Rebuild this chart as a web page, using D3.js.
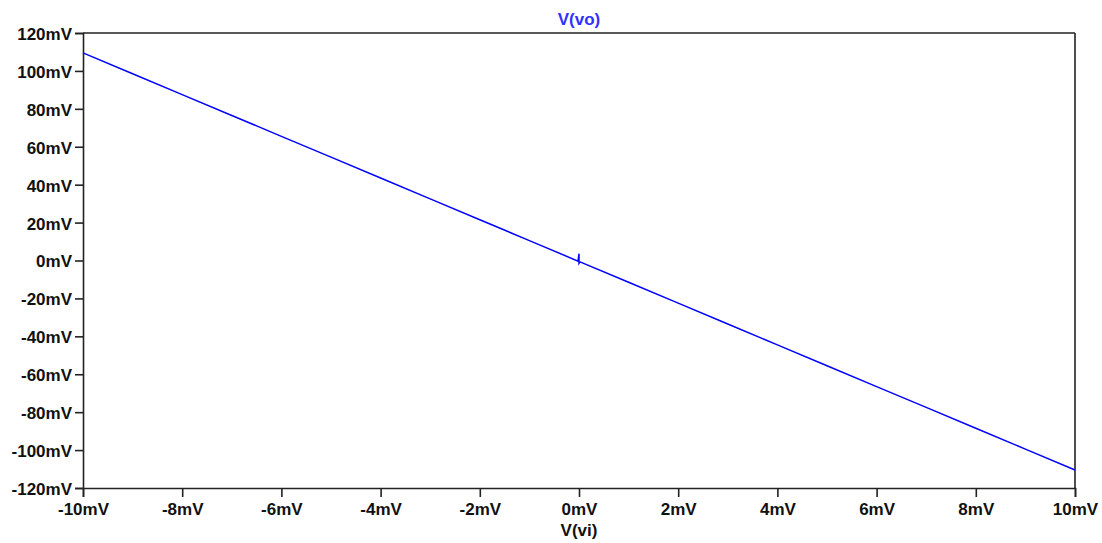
<!DOCTYPE html>
<html>
<head>
<meta charset="utf-8">
<script src="https://cdn.jsdelivr.net/npm/d3@7"></script>
<style>
  html, body { margin: 0; padding: 0; background: #ffffff; }
  svg { display: block; }
  text { font-family: "Liberation Sans", Arial, sans-serif; }
</style>
</head>
<body>
<svg id="chart" width="1102" height="543"></svg>
<script>
// ---- data (mV) ----
const xValues = [-10, -9, -8, -7, -6, -5, -4, -3, -2, -1, -0.02, 0, 0, 0.02, 1, 2, 3, 4, 5, 6, 7, 8, 9, 10];
const yValues = [109.5, 98.5, 87.5, 76.5, 65.5, 54.5, 43.5, 32.5, 21.5, 10.5, -0.3, 3.6, -1.5, -0.7, -11.5, -22.5, -33.5, -44.5, -55.5, -66.5, -77.5, -88.5, -99.5, -110.5];
const xTicks = [-10, -8, -6, -4, -2, 0, 2, 4, 6, 8, 10];
const yTicks = [120, 100, 80, 60, 40, 20, 0, -20, -40, -60, -80, -100, -120];
const seriesName = "V(vo)";
const xAxisName = "V(vi)";

const points = xValues.map((xv, i) => ({ x: xv, y: yValues[i] }));

const svg = d3.select("#chart");
const plotLeft = 83, plotRight = 1075, plotTop = 33, plotBottom = 488;

const x = d3.scaleLinear().domain([-10, 10]).range([plotLeft, plotRight]);
const y = d3.scaleLinear().domain([-120, 120]).range([plotBottom, plotTop]);

const fmt = d => d + "mV";
const axisColor = "#222";
const fontSize = "17px";

// frame (top and right)
svg.append("line").attr("x1", plotLeft).attr("x2", plotRight).attr("y1", plotTop).attr("y2", plotTop)
  .attr("stroke", axisColor).attr("stroke-width", 1.6);
svg.append("line").attr("x1", plotRight).attr("x2", plotRight).attr("y1", plotTop).attr("y2", plotBottom)
  .attr("stroke", axisColor).attr("stroke-width", 1.6);

// y axis
const gy = svg.append("g").attr("transform", `translate(${plotLeft},0)`)
  .call(d3.axisLeft(y).tickValues(yTicks).tickFormat(fmt).tickSize(8).tickPadding(3));
// x axis
const gx = svg.append("g").attr("transform", `translate(0,${plotBottom})`)
  .call(d3.axisBottom(x).tickValues(xTicks).tickFormat(fmt).tickSize(9).tickPadding(6));

[gx, gy].forEach(g => {
  g.select(".domain").attr("stroke", axisColor).attr("stroke-width", 1.6);
  g.selectAll(".tick line").attr("stroke", axisColor).attr("stroke-width", 1.6);
  g.selectAll(".tick text")
    .attr("fill", "#111")
    .style("font-size", fontSize)
    .style("font-weight", "bold")
    .style("font-family", "'Liberation Sans', Arial, sans-serif");
});
gy.selectAll(".tick text").attr("dy", "0.38em");

// series line
const line = d3.line().x(d => x(d.x)).y(d => y(d.y));
svg.append("path").datum(points)
  .attr("d", line)
  .attr("fill", "none")
  .attr("stroke", "#0000ff")
  .attr("stroke-width", 1.5);

// title
svg.append("text").attr("x", x(0)).attr("y", 25)
  .attr("text-anchor", "middle")
  .attr("fill", "#3030ff")
  .style("font-size", fontSize).style("font-weight", "bold")
  .text(seriesName);

// x axis name
svg.append("text").attr("x", x(0)).attr("y", 536)
  .attr("text-anchor", "middle")
  .attr("fill", "#111")
  .style("font-size", fontSize).style("font-weight", "bold")
  .text(xAxisName);
</script>
</body>
</html>
